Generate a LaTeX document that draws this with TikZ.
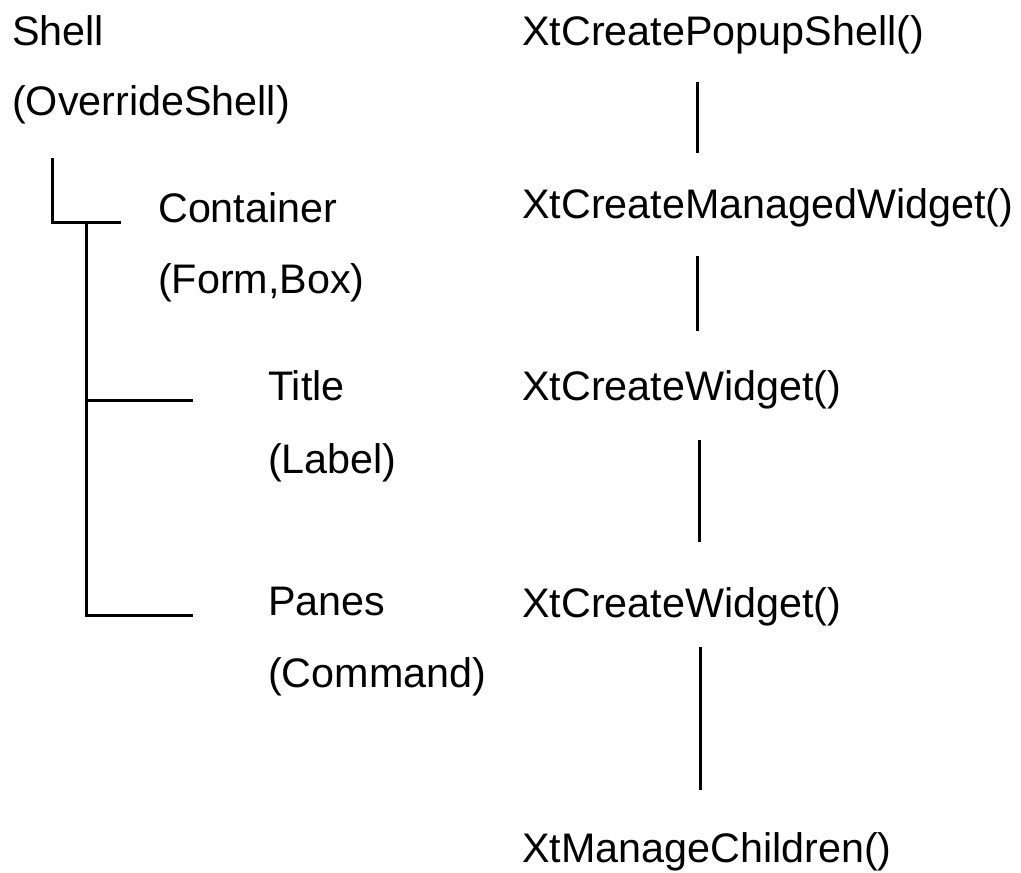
\documentclass[tikz,border=0pt]{standalone}
\usepackage{fontspec}
\setmainfont{Liberation Sans}
\begin{document}
\begin{tikzpicture}[x=1pt,y=-1pt,
  lbl/.style={anchor=base west,inner sep=0pt,font=\fontsize{41.3}{49}\selectfont},
  link/.style={line width=3pt}]
\useasboundingbox (0,0) rectangle (1021,873);
% widget tree (left)
\node[lbl] (shell)    at (12,45)  {Shell};
\node[lbl] (shellc)   at (12,115) {(OverrideShell)};
\node[lbl] (cont)     at (158,222) {Container};
\node[lbl] (contc)    at (158,293) {(Form,Box)};
\node[lbl] (title)    at (268,400) {Title};
\node[lbl] (titlec)   at (268,473) {(Label)};
\node[lbl] (panes)    at (268,615) {Panes};
\node[lbl] (panesc)   at (268,687) {(Command)};
% creation calls (right)
\node[lbl] (popup)    at (522,45)  {XtCreatePopupShell()};
\node[lbl] (managed)  at (522,218) {XtCreateManagedWidget()};
\node[lbl] (create1)  at (522,400) {XtCreateWidget()};
\node[lbl] (create2)  at (522,617) {XtCreateWidget()};
\node[lbl] (manage)   at (522,862) {XtManageChildren()};
% tree branches
\coordinate (t0) at (52,158);
\coordinate (t1) at (52,222);
\coordinate (t2) at (121,222);
\coordinate (b0) at (86,222);
\coordinate (b1) at (86,400);
\coordinate (b2) at (193,400);
\coordinate (b3) at (86,615);
\coordinate (b4) at (193,615);
\draw[link] (t0) -- (t1) -- (t2);
\draw[link] (b0) -- (b3) -- (b4);
\draw[link] (b1) -- (b2);
% call sequence
\coordinate (s1a) at (697,82);  \coordinate (s1b) at (697,153);
\coordinate (s2a) at (697,256); \coordinate (s2b) at (697,331);
\coordinate (s3a) at (699,440); \coordinate (s3b) at (699,542);
\coordinate (s4a) at (700,647); \coordinate (s4b) at (700,790);
\draw[link] (s1a) -- (s1b);
\draw[link] (s2a) -- (s2b);
\draw[link] (s3a) -- (s3b);
\draw[link] (s4a) -- (s4b);
\end{tikzpicture}
\end{document}
